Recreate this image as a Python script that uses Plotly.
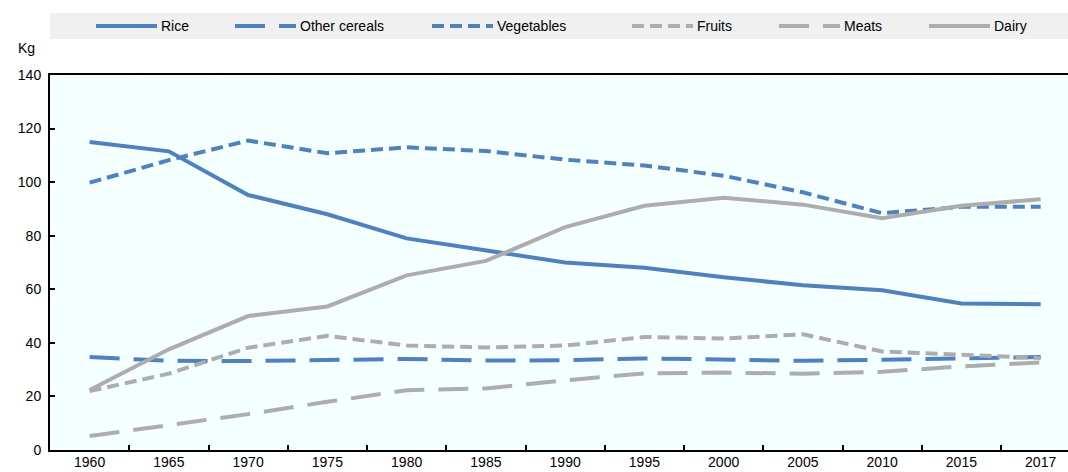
import plotly.graph_objects as go

years = ["1960", "1965", "1970", "1975", "1980", "1985", "1990", "1995", "2000", "2005", "2010", "2015", "2017"]
rice = [115, 111.5, 95.2, 88, 79, 74.5, 70, 68, 64.5, 61.5, 59.6, 54.7, 54.4]
other_cereals = [34.7, 33.3, 33.2, 33.5, 34, 33.4, 33.5, 34.2, 33.9, 33.3, 33.7, 34.1, 34.7]
vegetables = [99.8, 108.2, 115.5, 110.8, 113, 111.6, 108.4, 106.2, 102.4, 96.2, 88.4, 90.8, 90.8]
fruits = [22, 28.5, 38.2, 42.6, 39, 38.3, 39, 42.2, 41.6, 43.2, 36.8, 35.6, 34.3]
meats = [5.2, 9.2, 13.4, 18, 22.3, 23, 26, 28.6, 28.9, 28.5, 29.2, 31.2, 32.7]
dairy = [22.4, 37.6, 50, 53.6, 65.2, 70.6, 83.2, 91.2, 94.2, 91.6, 86.5, 91.2, 93.6]

names = ["Rice", "Other cereals", "Vegetables", "Fruits", "Meats", "Dairy"]
series = [rice, other_cereals, vegetables, fruits, meats, dairy]
BLUE = "#4F81BD"
GREY = "#ADADAD"
colors = [BLUE, BLUE, BLUE, GREY, GREY, GREY]
dashes = ["solid", "30px,14px", "12px,6px", "12px,6px", "30px,14px", "solid"]

W, H = 1068, 472
L, R, T, B = 50, 0, 75, 22
FONT = "Liberation Sans, Arial, sans-serif"
FS = 14

fig = go.Figure()
for n, s, c, d in zip(names, series, colors, dashes):
    fig.add_trace(go.Scatter(x=years, y=s, name=n, mode="lines",
                             line=dict(color=c, width=4, dash=d), showlegend=False))

# custom legend (paper coordinates derived from pixel layout)
pw = W - L - R
ph = H - T - B
def px(x):
    return (x - L) / pw
def py(y):
    return (H - B - y) / ph

fig.add_shape(type="rect", xref="paper", yref="paper", x0=px(50), x1=px(1068), y0=py(39), y1=py(13),
              fillcolor="#F0F0F0", line=dict(width=0), layer="below")
leg_x = [96, 235, 432, 632, 779, 929]
for n, c, d, x0 in zip(names, colors, dashes, leg_x):
    fig.add_shape(type="line", xref="paper", yref="paper", x0=px(x0), x1=px(x0 + 61), y0=py(26), y1=py(26),
                  line=dict(color=c, width=4, dash=d))
    fig.add_annotation(text=n, xref="paper", yref="paper", x=px(x0 + 63), y=py(26), xanchor="left",
                       yanchor="middle", showarrow=False, font=dict(size=FS, color="#000", family=FONT))

fig.add_annotation(text="Kg", xref="paper", yref="paper", x=px(37), y=py(48), xanchor="right",
                   yanchor="middle", showarrow=False, font=dict(size=FS, color="#000", family=FONT))

fig.update_layout(
    width=W, height=H,
    margin=dict(l=L, r=R, t=T, b=B, pad=0, autoexpand=False),
    paper_bgcolor="white",
    plot_bgcolor="#F4FFFF",
    font=dict(family=FONT, size=FS, color="#000"),
    showlegend=False,
)
fig.update_xaxes(type="category", range=[-0.5, 12.345], tickson="boundaries", ticks="inside",
                 ticklen=5, tickwidth=1.5, tickcolor="#000", showline=True, linecolor="#000", linewidth=2,
                 mirror=True, showgrid=True, gridcolor="#FAFFFF", gridwidth=1, zeroline=False,
                 automargin=False, ticklabelstandoff=-2, tickfont=dict(size=FS, family=FONT))
fig.update_yaxes(range=[0, 140], dtick=20, ticks="inside", ticklen=5, tickwidth=1.5, tickcolor="#000",
                 showline=True, linecolor="#000", linewidth=2, showgrid=True, gridcolor="white",
                 gridwidth=1, zeroline=False, automargin=False, ticklabelstandoff=4,
                 tickfont=dict(size=FS, family=FONT))

fig.write_html("out.html", config={"displayModeBar": False},
               post_script="document.body.style.margin='0';document.body.style.overflow='hidden';")
